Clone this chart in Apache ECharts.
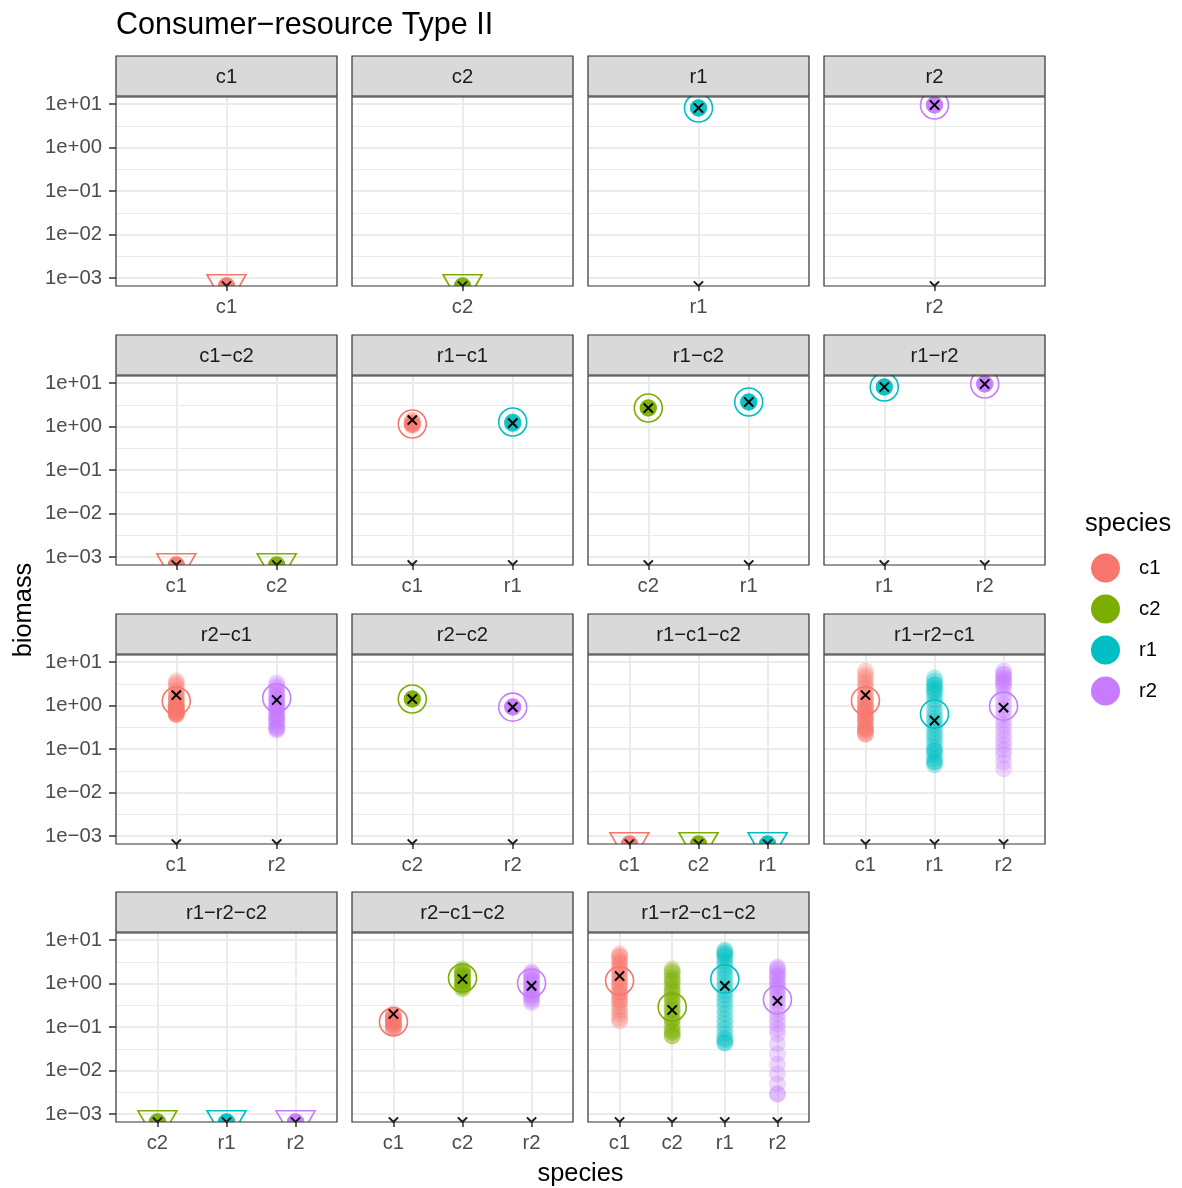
<!DOCTYPE html>
<html>
<head>
<meta charset="utf-8">
<script src="https://cdn.jsdelivr.net/npm/echarts@6/dist/echarts.min.js"></script>
<style>
  html, body { margin: 0; padding: 0; background: #ffffff; }
  #chart { width: 1182px; height: 1188px; }
</style>
</head>
<body>
<div id="chart"></div>
<script>
// Species and their colours
const SPECIES = ['c1', 'c2', 'r1', 'r2'];
const SPECIES_COLOR = { c1: '#F8766D', c2: '#7CAE00', r1: '#00BFC4', r2: '#C77CFF' };

// Biomass axis (log10): tick values and visible range
const TICK_VALUES = [1e-3, 1e-2, 1e-1, 1, 10];
const BIOMASS_RANGE = [6.55e-4, 14.5];

// Community of each facet, in display order
const FACETS = [
  'c1', 'c2', 'r1', 'r2',
  'c1−c2', 'r1−c1', 'r1−c2', 'r1−r2',
  'r2−c1', 'r2−c2', 'r1−c1−c2', 'r1−r2−c1',
  'r1−r2−c2', 'r2−c1−c2', 'r1−r2−c1−c2'
];

// Final biomass of each replicate run per species (0 = extinct),
// with the median (ring) and mean (cross) of the runs.
const f_c1 = {
  c1: { runs: [0, 0, 0, 0, 0, 0, 0, 0], median: 0, mean: 0 }
};
const f_c2 = {
  c2: { runs: [0, 0, 0, 0, 0, 0, 0, 0], median: 0, mean: 0 }
};
const f_r1 = {
  r1: { runs: [8.1, 8.1, 8.1, 8.1, 8.1, 8.1, 8.1, 8.1], median: 8.1, mean: 8.1 }
};
const f_r2 = {
  r2: { runs: [9.5, 9.5, 9.5, 9.5, 9.5, 9.5, 9.5, 9.5], median: 9.5, mean: 9.5 }
};
const f_c1_c2 = {
  c1: { runs: [0, 0, 0, 0, 0, 0, 0, 0], median: 0, mean: 0 },
  c2: { runs: [0, 0, 0, 0, 0, 0, 0, 0], median: 0, mean: 0 }
};
const f_r1_c1 = {
  c1: { runs: [1.41, 1.3, 1.2, 1.2, 1.14, 1.14, 1.1, 1.1, 1.05], median: 1.14, mean: 1.41 },
  r1: { runs: [1.27, 1.25, 1.22, 1.2, 1.2, 1.18, 1.15, 1.27], median: 1.27, mean: 1.2 }
};
const f_r1_c2 = {
  c2: { runs: [2.66, 2.66, 2.66, 2.66, 2.66, 2.66, 2.66, 2.66], median: 2.66, mean: 2.66 },
  r1: { runs: [3.66, 3.66, 3.66, 3.66, 3.66, 3.66, 3.66, 3.66], median: 3.66, mean: 3.66 }
};
const f_r1_r2 = {
  r1: { runs: [8.1, 8.1, 8.1, 8.1, 8.1, 8.1, 8.1, 8.1], median: 8.1, mean: 8.1 },
  r2: { runs: [9.5, 9.5, 9.5, 9.5, 9.5, 9.5, 9.5, 9.5], median: 9.5, mean: 9.5 }
};
const f_r2_c1 = {
  c1: { runs: [3.66, 3.2, 2.8, 2.3, 1.9, 1.74, 1.6, 1.45, 1.34, 1.24, 1.14, 1.05, 0.97, 0.92, 0.88, 0.83,
               0.79, 0.75, 0.71, 0.67, 0.64, 0.61, 1.0, 0.9, 0.8, 0.7, 0.65, 0.61], median: 1.27, mean: 1.74 },
  r2: { runs: [3.29, 2.9, 2.52, 2.2, 2.04, 1.8, 1.57, 1.45, 1.34, 1.2, 1.03, 0.95, 0.87, 0.79, 0.7, 0.61,
               0.55, 0.5, 0.46, 0.41, 0.36, 0.32, 0.29, 0.27, 1.1, 0.8, 0.5, 0.3], median: 1.49, mean: 1.34 }
};
const f_r2_c2 = {
  c2: { runs: [1.41, 1.41, 1.41, 1.41, 1.41, 1.41, 1.41, 1.41], median: 1.41, mean: 1.41 },
  r2: { runs: [0.92, 0.92, 0.92, 0.92, 0.92, 0.92, 0.92, 0.92], median: 0.92, mean: 0.92 }
};
const f_r1_c1_c2 = {
  c1: { runs: [0, 0, 0, 0, 0, 0, 0, 0], median: 0, mean: 0 },
  c2: { runs: [0, 0, 0, 0, 0, 0, 0, 0], median: 0, mean: 0 },
  r1: { runs: [0, 0, 0, 0, 0, 0, 0, 0], median: 0, mean: 0 }
};
const f_r1_r2_c1 = {
  c1: { runs: [6.2, 5.0, 4.3, 3.5, 2.96, 2.5, 2.04, 1.7, 1.45, 1.34, 1.2, 1.03, 0.95, 0.88, 0.79, 0.7,
               0.61, 0.55, 0.5, 0.46, 0.41, 0.36, 0.32, 0.29, 0.27, 0.24, 0.22, 0.22, 0.8, 0.5, 0.3], median: 1.29, mean: 1.74 },
  r1: { runs: [4.3, 3.6, 2.96, 2.5, 2.04, 1.7, 1.34, 1.1, 0.79, 0.65, 0.52, 0.44, 0.36, 0.3, 0.233, 0.2,
               0.161, 0.13, 0.105, 0.09, 0.073, 0.06, 0.05, 0.043, 3.0, 2.2, 0.09, 0.05], median: 0.64, mean: 0.45 },
  r2: { runs: [6.2, 5.2, 4.3, 3.6, 2.96, 2.4, 1.74, 1.4, 1.03, 0.8, 0.61, 0.47, 0.36, 0.28, 0.21, 0.16,
               0.124, 0.095, 0.073, 0.05, 0.035, 5.0, 4.0, 3.2], median: 0.97, mean: 0.89 }
};
const f_r1_r2_c2 = {
  c2: { runs: [0, 0, 0, 0, 0, 0, 0, 0], median: 0, mean: 0 },
  r1: { runs: [0, 0, 0, 0, 0, 0, 0, 0], median: 0, mean: 0 },
  r2: { runs: [0, 0, 0, 0, 0, 0, 0, 0], median: 0, mean: 0 }
};
const f_r2_c1_c2 = {
  c1: { runs: [0.199, 0.18, 0.165, 0.153, 0.14, 0.132, 0.125, 0.117, 0.105, 0.098, 0.09,
               0.19, 0.16, 0.13, 0.11, 0.095], median: 0.132, mean: 0.199 },
  c2: { runs: [2.15, 1.9, 1.65, 1.45, 1.27, 1.1, 0.97, 0.85, 0.75,
               2.0, 1.75, 1.5, 1.3, 1.15, 1.0, 0.9, 0.8], median: 1.34, mean: 1.27 },
  r2: { runs: [1.84, 1.55, 1.27, 1.05, 0.83, 0.68, 0.54, 0.45, 0.36,
               1.7, 1.4, 1.15, 0.95, 0.75, 0.6, 0.5, 0.4], median: 1.03, mean: 0.88 }
};
const f_r1_r2_c1_c2 = {
  c1: { runs: [4.77, 4.0, 3.29, 2.7, 2.15, 1.75, 1.41, 1.15, 0.97, 0.8, 0.64, 0.53, 0.44, 0.36, 0.29, 0.24,
               0.199, 0.16, 0.137, 4.3, 3.0, 2.0, 1.3, 0.9, 0.6, 0.4], median: 1.16, mean: 1.49 },
  c2: { runs: [2.15, 1.75, 1.41, 1.15, 0.97, 0.8, 0.64, 0.53, 0.44, 0.36, 0.29, 0.24, 0.199, 0.16, 0.137,
               0.11, 0.09, 0.075, 0.062, 0.062, 1.9, 1.2, 0.7, 0.4, 0.25, 0.15, 0.08], median: 0.288, mean: 0.246 },
  r1: { runs: [5.9, 4.9, 4.06, 3.4, 2.8, 2.3, 1.94, 1.55, 1.27, 1.0, 0.83, 0.66, 0.54, 0.43, 0.338, 0.26,
               0.199, 0.15, 0.117, 0.09, 0.069, 0.055, 0.043, 0.043, 5.4, 4.5, 0.05], median: 1.27, mean: 0.88 },
  r2: { runs: [2.39, 2.0, 1.65, 1.4, 1.14, 0.93, 0.75, 0.6, 0.49, 0.41, 0.338, 0.26, 0.199, 0.15, 0.117,
               0.09, 0.069, 0.041, 0.024, 0.014, 0.0083, 0.0049, 0.0029, 0.0029, 2.2, 1.5, 1.0, 0.7], median: 0.425, mean: 0.40 }
};

const FACET_DATA = [
  f_c1, f_c2, f_r1, f_r2,
  f_c1_c2, f_r1_c1, f_r1_c2, f_r1_r2,
  f_r2_c1, f_r2_c2, f_r1_c1_c2, f_r1_r2_c1,
  f_r1_r2_c2, f_r2_c1_c2, f_r1_r2_c1_c2
];

// ---- layout ----
const FONT = '"Liberation Sans", Arial, Helvetica, sans-serif';
const COL_LEFT = [116, 352, 588, 824];
const ROW_TOP = [56, 335, 614, 892];
const PANEL_W = 221;
const STRIP_H = 40;
const PLOT_H = 189;
const DOT_R = 8.5;
const DOT_ALPHA = 0.3;
const RING_R = 14;
const TRI_W = 39;
const CROSS = 4.6;

const Y_MIN = Math.log10(BIOMASS_RANGE[0]);
const Y_MAX = Math.log10(BIOMASS_RANGE[1]);
const Y_TICKS = TICK_VALUES.map(v => Math.log10(v));

function lg(v) { return v > 0 ? Math.log10(v) : Y_MIN; }

function powLabel(v) {
  const e = Math.round(v);
  const mag = String(Math.abs(e)).padStart(2, '0');
  return '1e' + (e < 0 ? '−' : '+') + mag;
}

// kind: 0 = run, 1 = median ring, 2 = mean cross, 3 = floor marker
function renderMarks(params, api) {
  const cs = params.coordSys;
  const floorY = cs.y + cs.height;
  const kind = api.value(2);
  const p = api.coord([api.value(0), api.value(1)]);
  const px = p[0], py = p[1];
  const color = api.visual('color');
  const onFloor = py >= floorY - 0.5;

  if (kind === 0) {
    if (onFloor) {
      return {
        type: 'sector',
        shape: { cx: px, cy: floorY, r0: 0, r: DOT_R, startAngle: Math.PI, endAngle: 2 * Math.PI, clockwise: true },
        style: { fill: color, opacity: DOT_ALPHA }
      };
    }
    return { type: 'circle', shape: { cx: px, cy: py, r: DOT_R }, style: { fill: color, opacity: DOT_ALPHA } };
  }
  if (kind === 1) {
    if (onFloor) {
      // open down-triangle centred on the floor, upper part only
      const w = TRI_W, h = w * Math.sqrt(3) / 2, top = floorY - h / 3;
      return {
        type: 'polyline',
        shape: { points: [[px - w / 3, floorY], [px - w / 2, top], [px + w / 2, top], [px + w / 3, floorY]] },
        style: { stroke: color, fill: 'none', lineWidth: 1.6 }
      };
    }
    return { type: 'circle', shape: { cx: px, cy: py, r: RING_R }, style: { fill: 'none', stroke: color, lineWidth: 1.6 } };
  }
  if (kind === 2) {
    if (onFloor) return { type: 'group', children: [] };
    const a = CROSS;
    return {
      type: 'group',
      children: [
        { type: 'line', shape: { x1: px - a, y1: py - a, x2: px + a, y2: py + a }, style: { stroke: '#000', lineWidth: 2 } },
        { type: 'line', shape: { x1: px - a, y1: py + a, x2: px + a, y2: py - a }, style: { stroke: '#000', lineWidth: 2 } }
      ]
    };
  }
  const a = CROSS;
  return {
    type: 'polyline',
    shape: { points: [[px - a, floorY - a], [px, floorY], [px + a, floorY - a]] },
    style: { stroke: '#1A1A1A', fill: 'none', lineWidth: 2 }
  };
}

const grids = [], xAxes = [], yAxes = [], series = [], graphics = [];

FACETS.forEach((label, i) => {
  const col = i % 4, row = Math.floor(i / 4);
  const left = COL_LEFT[col];
  const stripTop = ROW_TOP[row];
  const plotTop = stripTop + STRIP_H + 1;
  const facet = FACET_DATA[i];
  const sp = Object.keys(facet);
  const xs = sp.map((_, k) => k + 1);

  grids.push({ left: left, top: plotTop, width: PANEL_W, height: PLOT_H, show: false });

  xAxes.push({
    type: 'value', gridIndex: i, min: 0.4, max: sp.length + 0.6,
    axisLine: { show: false, onZero: false },
    axisTick: { show: true, length: 5, lineStyle: { color: '#333333', width: 1.5 }, customValues: xs },
    axisLabel: {
      customValues: xs, formatter: v => sp[Math.round(v) - 1] || '',
      margin: 11, color: '#4D4D4D', fontSize: 20.3, fontFamily: FONT
    },
    splitLine: { show: true, lineStyle: { color: '#EBEBEB', width: 2 } }
  });

  yAxes.push({
    type: 'value', gridIndex: i, min: Y_MIN, max: Y_MAX,
    axisLine: { show: false, onZero: false },
    axisTick: { show: col === 0, length: 7, lineStyle: { color: '#333333', width: 1.5 }, customValues: Y_TICKS },
    axisLabel: {
      show: col === 0, customValues: Y_TICKS, formatter: powLabel,
      margin: 14, color: '#4D4D4D', fontSize: 20.3, fontFamily: FONT
    },
    splitLine: { show: true, lineStyle: { color: '#EBEBEB', width: 2 } },
    minorTick: { show: false, splitNumber: 2 },
    minorSplitLine: { show: true, lineStyle: { color: '#EBEBEB', width: 1 } }
  });

  sp.forEach((s, k) => {
    const x = k + 1;
    const d = facet[s];
    const data = d.runs.map(v => [x, lg(v), 0]);
    data.push([x, lg(d.median), 1]);
    data.push([x, lg(d.mean), 2]);
    data.push([x, Y_MIN, 3]);
    series.push({
      type: 'custom', name: s, xAxisIndex: i, yAxisIndex: i,
      encode: { x: 0, y: 1 },
      itemStyle: { color: SPECIES_COLOR[s] },
      renderItem: renderMarks,
      data: data, silent: true, z: 5
    });
  });

  // facet strip
  graphics.push({
    type: 'rect', z: 50,
    shape: { x: left, y: stripTop, width: PANEL_W, height: STRIP_H },
    style: { fill: '#D9D9D9', stroke: '#333333', lineWidth: 1.2 }
  });
  graphics.push({
    type: 'text', z: 51, x: left + PANEL_W / 2, y: stripTop + STRIP_H / 2 + 1,
    style: { text: label, font: '20.3px ' + FONT, fill: '#1A1A1A',
             align: 'center', verticalAlign: 'middle', textAlign: 'center', textVerticalAlign: 'middle' }
  });
  // panel border
  graphics.push({
    type: 'rect', z: 50,
    shape: { x: left, y: plotTop, width: PANEL_W, height: PLOT_H },
    style: { fill: 'none', stroke: '#333333', lineWidth: 1.2 }
  });
});

// titles
graphics.push({
  type: 'text', z: 51, x: 116, y: 26,
  style: { text: 'Consumer−resource Type II', font: '30.5px ' + FONT, fill: '#000000',
           align: 'left', verticalAlign: 'middle', textAlign: 'left', textVerticalAlign: 'middle' }
});
graphics.push({
  type: 'text', z: 51, x: 580.5, y: 1174,
  style: { text: 'species', font: '25.4px ' + FONT, fill: '#000000',
           align: 'center', verticalAlign: 'middle', textAlign: 'center', textVerticalAlign: 'middle' }
});
graphics.push({
  type: 'text', z: 51, x: 24, y: 610, rotation: Math.PI / 2,
  style: { text: 'biomass', font: '25.4px ' + FONT, fill: '#000000',
           align: 'center', verticalAlign: 'middle', textAlign: 'center', textVerticalAlign: 'middle' }
});
graphics.push({
  type: 'text', z: 51, x: 1085, y: 524,
  style: { text: 'species', font: '25.4px ' + FONT, fill: '#000000',
           align: 'left', verticalAlign: 'middle', textAlign: 'left', textVerticalAlign: 'middle' }
});

const chart = echarts.init(document.getElementById('chart'), null, { renderer: 'canvas' });
chart.setOption({
  animation: false,
  backgroundColor: '#ffffff',
  textStyle: { fontFamily: FONT },
  grid: grids,
  xAxis: xAxes,
  yAxis: yAxes,
  series: series,
  graphic: { elements: graphics },
  legend: {
    orient: 'vertical', left: 1091, top: 553.5, padding: 0,
    itemWidth: 29, itemHeight: 29, itemGap: 12,
    icon: 'circle', selectedMode: false,
    data: SPECIES.map(s => ({ name: s, itemStyle: { color: SPECIES_COLOR[s], opacity: 1 } })),
    textStyle: { fontSize: 20.3, color: '#000000', fontFamily: FONT, padding: [0, 0, 0, 14] }
  }
});
</script>
</body>
</html>
